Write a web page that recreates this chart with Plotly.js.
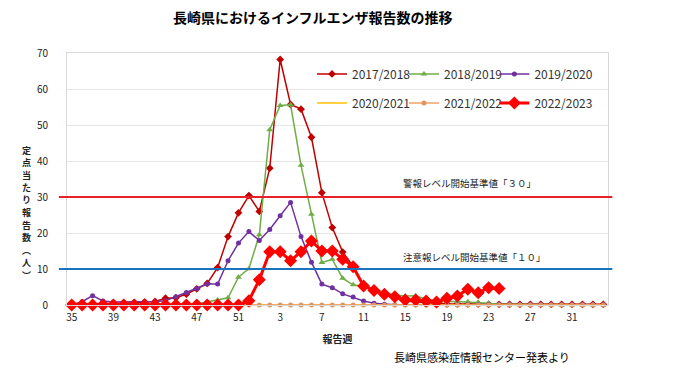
<!DOCTYPE html>
<html><head><meta charset="utf-8">
<script src="https://cdn.plot.ly/plotly-3.0.1.min.js"></script>
<style>html,body{margin:0;padding:0;background:#fff;}#chart{width:680px;height:382px;}</style>
</head><body><div id="chart"></div>
<script>
const weeks = ["35","36","37","38","39","40","41","42","43","44","45","46","47","48","49","50","51","52",
  "1","2","3","4","5","6","7","8","9","10","11","12","13","14","15","16","17","18","19","20","21","22","23","24","25","26","27","28","29","30","31","32","33","34"];
const s2017 = [0.3,0.3,0.3,0.4,0.4,0.5,0.6,0.8,1.0,1.9,2.0,3.0,4.5,6.0,10.4,19.0,25.6,30.4,
  26.0,38.0,68.2,55.7,54.4,46.6,31.2,21.5,14.7,10.7,5.5,4.0,3.0,2.0,1.2,0.8,0.6,0.4,0.3,0.3,0.3,0.3,0.2,0.2,0.2,0.2,0.2,0.2,0.2,0.2,0.2,0.2,0.2,0.2];
const s2018 = [0,0,0,0,0,0,0,0,0,0,0,0,0.3,0.9,1.4,2.0,7.7,10.1,
  19.5,48.7,55.4,55.6,38.8,25.2,11.8,12.7,7.4,5.6,5.0,4.5,3.5,2.8,2.5,2.6,1.6,1.3,1.0,1.0,0.9,0.7,0.5,0.2,0.2,0.1,0.1,0.1,0.1,0.1,0.1,0.1,0.1,0.1];
const s2019 = [0.1,0.9,2.6,1.1,0.8,0.8,0.8,1.0,1.0,1.2,2.3,3.5,4.6,5.8,5.8,12.3,17.2,20.4,
  17.9,21.0,24.8,28.5,19.0,11.9,5.8,4.8,3.1,2.2,1.1,0.5,0.2,0.1,0.1,0.1,0.1,0.1,0.1,0.1,0.1,0.1,0.1,0.1,0.1,0.1,0.1,0.1,0.1,0.1,0.1,0.1,0.1,0.1];
const s2020 = [0,0,0,0,0,0,0,0,0,0,0,0,0,0,0,0,0,0,0,0,0,0,0,0,0,0,0,0,0,0,0,0,0,0,0,0,0,0,0,0,0,0,0,0,0,0,0,0,0,0,0,0];
const s2021 = [0,0,0,0,0,0,0,0,0,0,0,0,0,0,0,0,0,0,0,0,0,0,0,0,0,0,0,0,0,0,0,0,0,0,0,0,0,0,0,0,0,0,0,0,0,0,0,0,0,0,0,0];
const s2022 = [0,0,0,0,0,0,0,0,0,0,0,0,0,0,0,0,0,1.2,
  7.0,14.8,14.8,12.3,14.8,17.8,15.0,15.0,12.7,10.6,5.3,4.0,3.0,2.3,1.4,1.4,1.1,0.8,1.9,2.5,4.4,3.4,4.8,4.6];
const seasonNames = ["2017/2018","2018/2019","2019/2020","2020/2021","2021/2022","2022/2023"];
const alertLevel = 30, warnLevel = 10;
const alertLabel = "警報レベル開始基準値「３０」";
const warnLabel = "注意報レベル開始基準値「１０」";
const yTitleChars = ["定","点","当","た","り","報","告","数","︵","人","︶"];
const sourceNote = "長崎県感染症情報センター発表より";

const F = "'Noto Sans CJK JP', 'Noto Sans', sans-serif";
function tr(y, name, color, width, msym, msize, legend) {
  const t = {x: weeks.slice(0, y.length), y: y, name: name, type: 'scatter', mode: msym ? 'lines+markers' : 'lines',
    line: {color: color, width: width}, cliponaxis: false, legend: legend, showlegend: true};
  if (msym) t.marker = {symbol: msym, size: msize, color: color};
  return t;
}
const data = [
  tr(s2017, seasonNames[0], '#c00000', 1.5, 'diamond', 6, 'legend'),
  tr(s2018, seasonNames[1], '#70ad47', 1.5, 'triangle-up', 6, 'legend2'),
  tr(s2019, seasonNames[2], '#7030a0', 1.5, 'circle', 5, 'legend3'),
  tr(s2020, seasonNames[3], '#ffc000', 1.5, null, 0, 'legend4'),
  tr(s2021, seasonNames[4], '#f4a064', 1.5, 'circle', 5, 'legend5'),
  tr(s2022, seasonNames[5], '#ff0000', 3, 'diamond', 10, 'legend6')
];
data[4].marker.color = '#e0965e';

function leg(x, y) {
  return {x: x, y: y, orientation: 'h', xanchor: 'left', yanchor: 'middle', bgcolor: 'rgba(0,0,0,0)',
    font: {family: F, size: 12, color: '#333'}, itemwidth: 30, visible: true};
}
const colX = [0.4529, 0.6229, 0.790];
const rowY = [0.917, 0.802];

const annotations = [
  {xref: 'paper', yref: 'y', x: 0.617, y: 34.0, text: alertLabel, showarrow: false, xanchor: 'left', yanchor: 'middle',
    font: {family: F, size: 9.5, color: '#222'}},
  {xref: 'paper', yref: 'y', x: 0.617, y: 13.3, text: warnLabel, showarrow: false, xanchor: 'left', yanchor: 'middle',
    font: {family: F, size: 9.5, color: '#222'}},
  {xref: 'paper', yref: 'paper', x: 0.600, y: -0.205, text: sourceNote, showarrow: false,
    xanchor: 'left', yanchor: 'middle', font: {family: F, size: 11, color: '#000'}}
];
yTitleChars.forEach((c, i) => {
  annotations.push({xref: 'paper', yref: 'paper', x: -0.075, y: (305 - (150 + i * 12.5)) / 252, text: '<b>' + c + '</b>',
    showarrow: false, xanchor: 'center', yanchor: 'middle', borderpad: 0, font: {family: F, size: 9, color: '#222'}});
});

const layout = {
  width: 680, height: 382,
  showlegend: true,
  margin: {l: 67, r: 72, t: 53, b: 77, autoexpand: false},
  paper_bgcolor: '#fff', plot_bgcolor: '#fff',
  title: {text: '<b>長崎県におけるインフルエンザ報告数の推移</b>', font: {family: F, size: 14, color: '#000'},
    x: 0.46, xanchor: 'center', y: 0.952, yanchor: 'middle'},
  xaxis: {type: 'category', range: [-0.45, 51.45], tickmode: 'linear', tick0: 0, dtick: 4,
    showgrid: false, showline: true, linecolor: '#d9d9d9', mirror: true, zeroline: false,
    ticks: 'outside', ticklen: 3, tickcolor: 'rgba(0,0,0,0)',
    tickfont: {family: F, size: 10, color: '#222'},
    title: {text: '<b>報告週</b>', font: {family: F, size: 10, color: '#222'}, standoff: 12}},
  yaxis: {range: [0, 70], dtick: 10, showgrid: true, gridcolor: '#e6e6e6', gridwidth: 1,
    showline: true, linecolor: '#d9d9d9', mirror: true, zeroline: false,
    ticks: 'outside', ticklen: 16, tickcolor: 'rgba(0,0,0,0)',
    tickfont: {family: F, size: 10, color: '#222'}},
  legend: leg(colX[0], rowY[0]),
  legend2: leg(colX[1], rowY[0]),
  legend3: leg(colX[2], rowY[0]),
  legend4: leg(colX[0], rowY[1]),
  legend5: leg(colX[1], rowY[1]),
  legend6: leg(colX[2], rowY[1]),
  shapes: [
    {type: 'line', xref: 'paper', yref: 'y', x0: -0.015, x1: 1.008, y0: alertLevel, y1: alertLevel, line: {color: '#e8202a', width: 2}},
    {type: 'line', xref: 'paper', yref: 'y', x0: -0.015, x1: 1.008, y0: warnLevel, y1: warnLevel, line: {color: '#1a72c0', width: 2}}
  ],
  annotations: annotations
};
Plotly.newPlot('chart', data, layout, {displayModeBar: false, staticPlot: true});
</script></body></html>
